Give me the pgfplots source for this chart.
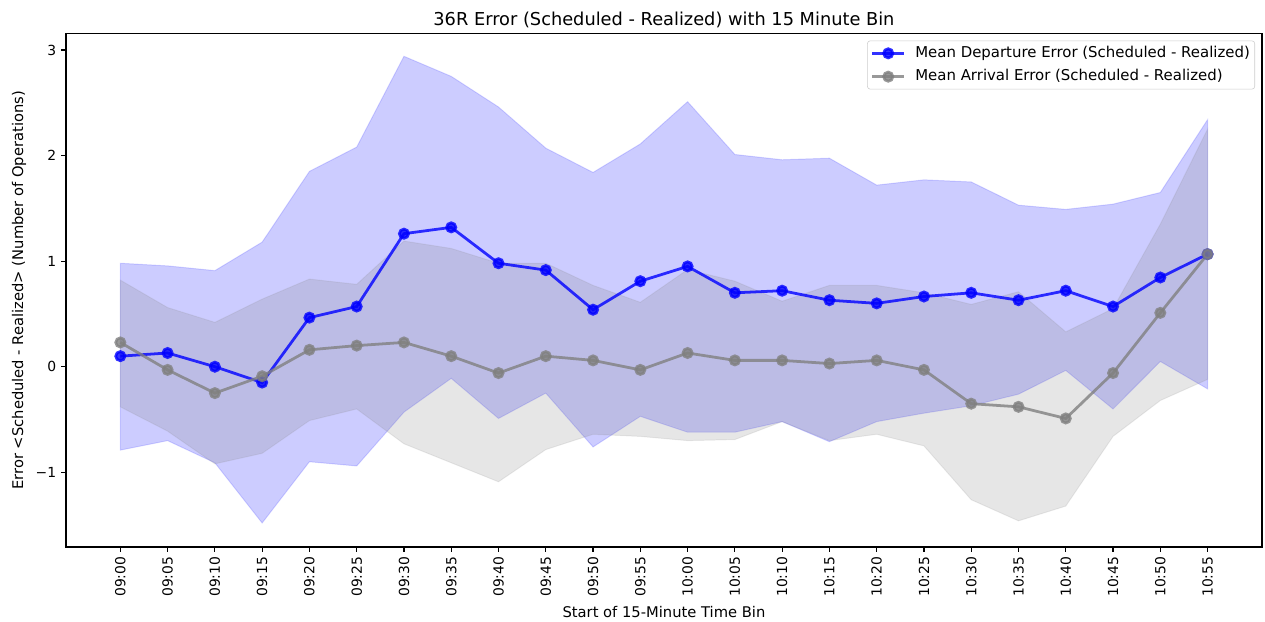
\documentclass[border=0pt]{standalone}
\usepackage{fontspec}
\setmainfont{DejaVu Sans}
\usepackage{pgfplots}
\pgfplotsset{compat=1.18}
\usepackage{pgfplotstable}
\usepgfplotslibrary{fillbetween}
\definecolor{mplgray}{RGB}{128,128,128}
\definecolor{mplblue}{RGB}{0,0,255}
\pgfplotstableread{
x dm dlo dhi am alo ahi
0 0.10 -0.79 0.98 0.23 -0.38 0.82
1 0.13 -0.70 0.955 -0.03 -0.61 0.56
2 0.00 -0.91 0.91 -0.25 -0.92 0.42
3 -0.15 -1.48 1.18 -0.09 -0.82 0.64
4 0.465 -0.90 1.85 0.16 -0.51 0.83
5 0.57 -0.94 2.08 0.20 -0.40 0.78
6 1.26 -0.43 2.94 0.23 -0.73 1.19
7 1.32 -0.11 2.75 0.10 -0.91 1.12
8 0.98 -0.49 2.46 -0.06 -1.09 0.98
9 0.915 -0.25 2.07 0.10 -0.785 0.98
10 0.54 -0.76 1.84 0.06 -0.64 0.77
11 0.81 -0.47 2.11 -0.03 -0.66 0.61
12 0.95 -0.62 2.51 0.13 -0.70 0.92
13 0.70 -0.62 2.01 0.06 -0.69 0.81
14 0.72 -0.52 1.96 0.06 -0.52 0.62
15 0.63 -0.71 1.975 0.03 -0.70 0.77
16 0.60 -0.52 1.72 0.06 -0.64 0.77
17 0.665 -0.44 1.77 -0.03 -0.75 0.70
18 0.70 -0.37 1.75 -0.35 -1.26 0.59
19 0.63 -0.26 1.53 -0.38 -1.46 0.71
20 0.72 -0.035 1.49 -0.49 -1.32 0.33
21 0.57 -0.40 1.54 -0.06 -0.66 0.55
22 0.845 0.05 1.65 0.51 -0.32 1.35
23 1.066 -0.21 2.34 1.066 -0.12 2.25
}\data
\begin{document}
\begin{tikzpicture}
\begin{axis}[
  at={(47.5pt,54pt)}, anchor=south west,
  scale only axis, width=861.1pt, height=369.6pt,
  xmin=-1.15, xmax=24.15, ymin=-1.707, ymax=3.155,
  axis line style={line width=0.8pt},
  every tick/.style={black, line width=0.8pt},
  major tick length=3.5pt, tick align=outside,
  xtick pos=left, ytick pos=left,
  xtick={0,...,23},
  xticklabels={09:00,09:05,09:10,09:15,09:20,09:25,09:30,09:35,09:40,09:45,09:50,09:55,10:00,10:05,10:10,10:15,10:20,10:25,10:30,10:35,10:40,10:45,10:50,10:55},
  ytick={-1,0,1,2,3},
  yticklabels={−1,0,1,2,3},
  xticklabel style={rotate=90, anchor=east, font=\fontsize{10}{12}\selectfont},
  yticklabel style={font=\fontsize{10}{12}\selectfont},
  title={36R Error (Scheduled - Realized) with 15 Minute Bin},
  every axis title shift=0pt,
  title style={at={(0.5,1)}, anchor=base, yshift=6pt, inner sep=0pt, font=\fontsize{12.8}{15}\selectfont},
  xlabel={Start of 15-Minute Time Bin},
  ylabel={Error <Scheduled - Realized> (Number of Operations)},
  label style={font=\fontsize{10.6}{12.5}\selectfont},
  legend style={at={(1,1)}, anchor=north east, xshift=-5pt, yshift=-5pt,
    draw=black!20, rounded corners=2pt, fill=white, fill opacity=0.8, text opacity=1,
    font=\fontsize{10.75}{13}\selectfont, cells={anchor=west},
    inner xsep=2.5pt, inner ysep=2.75pt, row sep=4.3pt, column sep=6pt,
    nodes={inner xsep=1pt, inner ysep=1pt, text height=8pt, text depth=2.5pt}},
  legend image code/.code={\draw[mark repeat=2,mark phase=2] plot coordinates {(0pt,0pt)(11.5pt,0pt)(23pt,0pt)};},
]
\addplot[draw=none, name path=dhi, forget plot] table[x=x,y=dhi]{\data};
\addplot[draw=none, name path=dlo, forget plot] table[x=x,y=dlo]{\data};
\addplot[fill=mplblue, fill opacity=0.2, draw=mplblue, draw opacity=0.15, line width=0.7pt, forget plot] fill between[of=dhi and dlo];
\addplot[draw=none, name path=ahi, forget plot] table[x=x,y=ahi]{\data};
\addplot[draw=none, name path=alo, forget plot] table[x=x,y=alo]{\data};
\addplot[fill=mplgray, fill opacity=0.2, draw=mplgray, draw opacity=0.15, line width=0.7pt, forget plot] fill between[of=ahi and alo];
\addplot[mplblue, opacity=0.8, line width=2pt, mark=*, mark size=3.3pt, mark options={solid, draw=none, fill=mplblue}] table[x=x,y=dm]{\data};
\addlegendentry{Mean Departure Error (Scheduled - Realized)}
\addplot[mplgray, opacity=0.8, line width=2pt, mark=*, mark size=3.3pt, mark options={solid, draw=none, fill=mplgray}] table[x=x,y=am]{\data};
\addlegendentry{Mean Arrival Error (Scheduled - Realized)}
\end{axis}
\pgfresetboundingbox
\useasboundingbox (0,0) rectangle (910.8pt,447.8pt);
\end{tikzpicture}
\end{document}
